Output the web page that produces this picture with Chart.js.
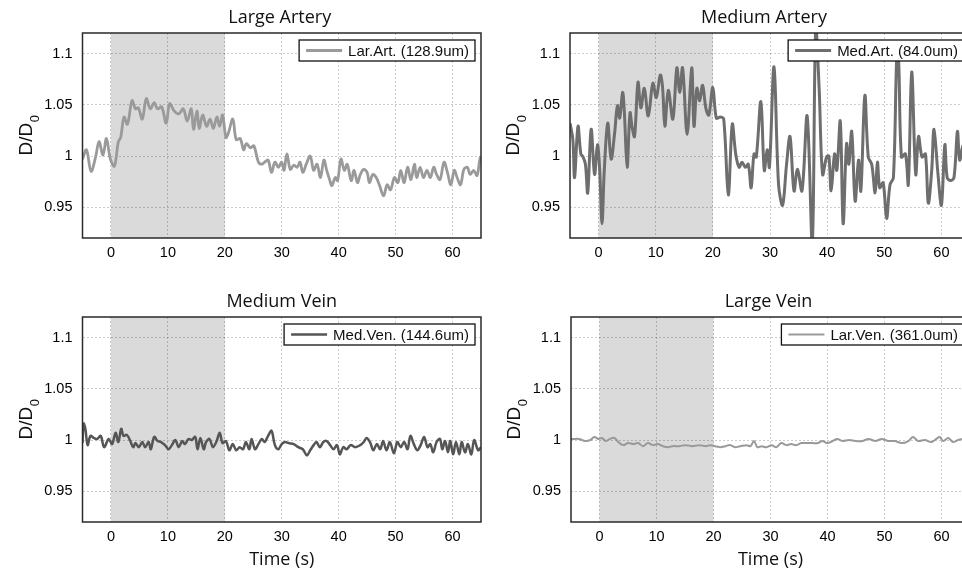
<!DOCTYPE html>
<html lang="en">
<head>
  <meta charset="UTF-8" />
  <title>Vessel diameter ratio D/D0 over time</title>
  <script src="https://cdn.jsdelivr.net/npm/chart.js"></script>
  <style>
    html, body { margin: 0; padding: 0; background: #fff; width: 962px; height: 573px; overflow: hidden; }
    #wrap { position: relative; width: 962px; height: 573px; overflow: hidden; }
    #wrap canvas { position: absolute; }
  </style>
</head>
<body>
  <div id="wrap">
    <canvas id="largeArtery" width="490" height="283" style="left:0;top:0"></canvas>
    <canvas id="mediumArtery" width="499" height="283" style="left:481px;top:0"></canvas>
    <canvas id="mediumVein" width="490" height="290" style="left:0;top:283px"></canvas>
    <canvas id="largeVein" width="499" height="290" style="left:481px;top:283px"></canvas>
  </div>

  <script>
    // axes
    const xTicks = [0, 10, 20, 30, 40, 50, 60];
    const yTicks = [0.95, 1, 1.05, 1.1];
    const xMin = -5, xMax = 65;
    const yMin = 0.92, yMax = 1.12;
    const stimStart = 0, stimEnd = 20;

    // Large Artery (128.9um)
    const largeArteryTime = [
      -5, -4.3, -3.5, -2.7, -2.1, -1.4, -0.8, -0.1, 0.6, 1.3,
      1.7, 2.3, 2.9, 3.7, 4.3, 4.8, 5.5, 6.2, 6.9, 7.6,
      8.2, 8.9, 9.7, 10.3, 11.1, 11.9, 12.7, 13.4, 14.1, 14.5,
      15.1, 15.5, 16.1, 16.8, 17.4, 18.0, 18.6, 19.1, 19.6, 20.2,
      20.6, 21.4, 22.0, 22.7, 23.3, 23.8, 24.5, 25.1, 25.9, 26.5,
      27.0, 27.6, 28.2, 28.8, 29.4, 30.0, 30.4, 30.9, 31.5, 32.1,
      32.7, 33.2, 33.7, 34.3, 35.0, 35.6, 36.2, 36.8, 37.4, 37.9,
      38.4, 38.8, 39.4, 39.8, 40.4, 41.0, 41.5, 42.2, 42.7, 43.3,
      43.8, 44.4, 45.0, 45.4, 46.0, 46.6, 47.2, 47.9, 48.5, 49.1,
      49.8, 50.4, 50.9, 51.5, 52.1, 52.7, 53.3, 53.7, 54.3, 54.9,
      55.5, 56.1, 56.7, 57.2, 57.8, 58.5, 59.1, 59.7, 60.3, 60.8,
      61.4, 62.0, 62.6, 63.1, 63.7, 64.3, 64.8, 65.0
    ];
    const largeArteryRatio = [
      0.997, 1.006, 0.985, 0.999, 1.014, 1.001, 1.017, 0.997, 0.990, 1.014,
      1.018, 1.038, 1.031, 1.054, 1.046, 1.047, 1.036, 1.056, 1.046, 1.052,
      1.046, 1.048, 1.032, 1.051, 1.044, 1.041, 1.046, 1.034, 1.046, 1.026,
      1.044, 1.027, 1.040, 1.029, 1.036, 1.027, 1.038, 1.029, 1.040, 1.018,
      1.022, 1.036, 1.016, 1.017, 1.006, 1.012, 1.008, 1.010, 0.994, 0.992,
      0.994, 0.996, 0.984, 0.994, 0.989, 0.994, 0.986, 1.002, 0.987, 0.991,
      0.989, 0.994, 0.984, 0.992, 1.000, 0.986, 0.992, 0.979, 0.996, 0.986,
      0.977, 0.971, 0.979, 0.976, 0.997, 0.986, 0.992, 0.976, 0.986, 0.974,
      0.982, 0.987, 0.984, 0.974, 0.982, 0.979, 0.971, 0.961, 0.972, 0.967,
      0.979, 0.974, 0.986, 0.974, 0.989, 0.977, 0.992, 0.979, 0.989, 0.979,
      0.986, 0.979, 0.989, 0.982, 0.977, 0.994, 0.984, 0.972, 0.986, 0.979,
      0.972, 0.987, 0.989, 0.982, 0.986, 0.981, 0.997, 1.000
    ];

    // Medium Artery (84.0um)
    const mediumArteryTime = [
      -5, -4.5, -4.2, -3.6, -3.1, -2.7, -2.3, -1.9, -1.3, -0.7,
      -0.2, 0.2, 0.6, 1.0, 1.6, 2.2, 2.8, 3.3, 3.7, 4.2,
      4.5, 5.0, 5.5, 5.9, 6.3, 6.9, 7.4, 8.0, 8.7, 9.5,
      10.1, 10.8, 11.2, 11.6, 12.2, 13.0, 13.7, 14.2, 14.7, 15.5,
      16.3, 16.7, 17.2, 17.7, 18.2, 18.8, 19.3, 20.0, 20.6, 21.3,
      21.9, 22.7, 23.4, 24.0, 24.6, 25.1, 25.7, 26.2, 26.7, 27.2,
      27.6, 28.4, 29.0, 29.5, 29.9, 30.7, 31.5, 32.2, 32.9, 33.5,
      34.2, 34.8, 35.6, 36.5, 37.4, 38.0, 38.6, 39.2, 39.9, 40.3,
      40.7, 41.3, 41.7, 42.3, 42.8, 43.4, 43.8, 44.3, 44.9, 45.5,
      45.9, 46.6, 47.2, 47.8, 48.4, 48.8, 49.2, 49.8, 50.4, 51.0,
      51.6, 52.2, 52.5, 53.0, 53.7, 54.2, 54.8, 55.5, 56.0, 56.6,
      57.2, 57.7, 58.3, 58.7, 59.4, 60.0, 60.6, 61.0, 61.6, 62.2,
      62.8, 63.2, 63.8, 64.4, 65.0
    ];
    const mediumArteryRatio = [
      1.032, 1.016, 0.979, 1.029, 1.002, 0.999, 0.992, 0.964, 1.026, 0.982,
      1.011, 0.986, 0.934, 0.986, 1.032, 0.997, 1.022, 1.049, 1.037, 1.062,
      1.044, 0.989, 1.042, 1.027, 1.019, 1.072, 1.047, 1.066, 1.039, 1.071,
      1.057, 1.079, 1.067, 1.029, 1.064, 1.036, 1.086, 1.062, 1.086, 1.021,
      1.086, 1.029, 1.066, 1.054, 1.069, 1.046, 1.040, 1.067, 1.037, 1.038,
      1.036, 0.962, 1.031, 1.002, 0.989, 0.994, 0.989, 0.992, 0.969, 1.002,
      0.999, 1.053, 0.986, 1.006, 0.989, 1.087, 0.972, 0.952, 0.992, 1.019,
      0.966, 0.987, 0.966, 1.039, 0.915, 1.125, 1.066, 0.982, 0.999, 1.000,
      0.966, 1.002, 0.986, 1.034, 0.934, 1.012, 0.992, 1.024, 0.956, 0.996,
      0.966, 1.059, 0.999, 0.992, 0.964, 0.994, 0.969, 0.974, 0.939, 0.972,
      0.979, 1.100, 1.095, 0.999, 1.002, 0.972, 1.082, 0.982, 1.019, 0.999,
      1.002, 0.954, 0.986, 1.026, 0.982, 0.952, 1.011, 0.979, 0.976, 0.979,
      1.024, 0.996, 1.010, 0.985, 1.000
    ];

    // Medium Vein (144.6um)
    const mediumVeinTime = [
      -5, -4.8, -4.5, -4.1, -3.6, -3.0, -2.4, -1.8, -1.2, -0.4,
      0.2, 0.8, 1.3, 1.8, 2.2, 2.8, 3.4, 3.9, 4.3, 4.9,
      5.5, 6.0, 6.6, 7.0, 7.6, 8.2, 8.8, 9.5, 10.1, 10.7,
      11.3, 11.9, 12.5, 13.0, 13.6, 14.2, 14.8, 15.2, 15.7, 16.3,
      16.7, 17.3, 17.9, 18.5, 19.1, 19.6, 20.2, 20.8, 21.4, 22.0,
      22.6, 23.2, 23.7, 24.3, 24.7, 25.3, 25.9, 26.5, 27.0, 27.6,
      28.2, 28.8, 29.4, 30.0, 30.6, 31.2, 32.1, 32.9, 33.7, 34.4,
      35.0, 35.6, 36.1, 36.7, 37.3, 37.9, 38.5, 39.1, 39.7, 40.2,
      40.8, 41.4, 42.1, 42.9, 43.8, 44.4, 44.9, 45.5, 46.1, 46.7,
      47.3, 47.8, 48.4, 49.0, 49.7, 50.3, 50.9, 51.5, 52.1, 52.6,
      53.2, 53.8, 54.4, 55.0, 55.6, 56.1, 56.6, 57.2, 57.8, 58.2,
      58.7, 59.2, 59.6, 60.1, 60.6, 61.2, 61.6, 62.2, 62.7, 63.3,
      63.8, 64.5, 65.0
    ];
    const mediumVeinRatio = [
      0.997, 1.016, 1.011, 0.995, 1.004, 1.002, 1.001, 1.004, 0.993, 1.001,
      0.996, 1.007, 0.998, 1.011, 1.004, 1.005, 0.999, 0.993, 0.997, 0.993,
      0.998, 0.993, 0.998, 0.991, 1.003, 0.999, 0.998, 0.995, 0.991, 0.995,
      1.000, 0.993, 0.999, 0.996, 1.001, 1.000, 1.003, 0.991, 1.002, 0.991,
      0.998, 1.001, 0.993, 0.998, 1.007, 0.997, 0.999, 0.990, 0.996, 0.990,
      0.993, 0.991, 0.998, 0.991, 1.001, 0.991, 0.996, 1.001, 0.998, 1.004,
      1.009, 0.995, 0.991, 0.996, 0.998, 0.997, 0.996, 0.993, 0.991, 0.985,
      0.990, 0.995, 0.998, 0.993, 0.998, 0.999, 0.995, 0.991, 0.995, 0.986,
      0.993, 0.991, 0.995, 0.993, 0.995, 0.998, 1.002, 0.998, 0.990, 0.996,
      0.991, 0.999, 0.990, 0.998, 0.987, 0.998, 0.993, 0.998, 0.991, 1.004,
      0.996, 0.990, 0.995, 1.003, 0.993, 0.996, 0.988, 0.998, 1.001, 0.991,
      0.999, 0.988, 0.999, 0.986, 0.998, 0.986, 0.998, 0.988, 0.996, 0.986,
      1.000, 0.990, 0.993
    ];

    // Large Vein (361.0um)
    const largeVeinTime = [
      -5, -4.7, -3.6, -2.5, -1.6, -0.9, -0.2, 0.4, 1.1, 1.8,
      2.6, 3.3, 4.2, 5.0, 5.9, 6.8, 7.6, 8.5, 9.4, 10.2,
      11.1, 12.0, 12.8, 14.0, 15.1, 16.3, 17.5, 18.6, 19.5, 20.3,
      21.2, 22.1, 22.9, 23.8, 24.7, 25.8, 26.5, 27.1, 27.7, 28.4,
      29.3, 30.2, 31.0, 31.9, 32.8, 33.6, 34.5, 35.4, 36.2, 37.4,
      38.3, 39.1, 40.0, 40.9, 41.7, 42.6, 43.8, 44.9, 46.1, 47.2,
      48.4, 49.5, 50.7, 51.8, 53.0, 54.2, 55.0, 55.9, 57.1, 58.2,
      59.1, 59.7, 60.3, 61.2, 62.0, 62.9, 64.0, 65.0
    ];
    const largeVeinRatio = [
      1.001, 1.001, 1.001, 0.999, 1.000, 1.003, 1.001, 1.002, 0.999, 1.001,
      1.002, 0.998, 0.995, 0.997, 0.996, 0.997, 0.994, 0.997, 0.995, 0.996,
      0.994, 0.993, 0.994, 0.994, 0.995, 0.994, 0.995, 0.994, 0.995, 0.994,
      0.993, 0.994, 0.995, 0.993, 0.994, 0.995, 0.994, 0.999, 0.993, 0.994,
      0.993, 0.995, 0.993, 0.997, 0.995, 0.996, 0.995, 0.997, 0.997, 0.997,
      0.997, 0.999, 0.997, 0.999, 1.001, 0.999, 1.000, 0.999, 0.999, 1.001,
      0.999, 1.001, 0.999, 0.999, 0.997, 0.999, 1.003, 0.999, 1.000, 0.998,
      1.001, 1.003, 0.999, 1.002, 0.998, 1.000, 1.001, 0.999
    ];

    const tickFont = { family: 'Liberation Sans', size: 14.5 };
    const gridColor = 'rgba(0, 0, 0, 0.2)';

    function toPoints(times, ratios) {
      const n = Math.min(times.length, ratios.length);
      const pts = [];
      for (let i = 0; i < n; i++) pts.push({ x: times[i], y: ratios[i] });
      return pts;
    }

    function makePanel(id, cfg) {
      const decor = {
        id: 'decor',
        beforeDraw(chart) {
          const { ctx, chartArea: a, scales: { x } } = chart;
          const x0 = x.getPixelForValue(stimStart);
          const x1 = x.getPixelForValue(stimEnd);
          ctx.save();
          ctx.fillStyle = '#dadada';
          ctx.fillRect(x0, a.top, x1 - x0, a.bottom - a.top);
          ctx.restore();
        },
        afterDraw(chart) {
          const { ctx, chartArea: a } = chart;
          const midX = (a.left + a.right) / 2;
          ctx.save();

          // plot frame
          ctx.strokeStyle = '#2a2a2a';
          ctx.lineWidth = 1.5;
          ctx.strokeRect(a.left, a.top, a.right - a.left, a.bottom - a.top);

          // panel title
          ctx.fillStyle = '#111';
          ctx.font = '18px "Open Sans"';
          ctx.textAlign = 'center';
          ctx.textBaseline = 'middle';
          ctx.fillText(cfg.title, midX + cfg.titleShift, a.top - 15);

          // x label on the lower row
          if (cfg.xLabel) {
            ctx.fillText(cfg.xLabel, midX, a.bottom + 38);
          }

          // y label D/D0 with subscript
          ctx.save();
          ctx.translate(a.left - 51, (a.top + a.bottom) / 2);
          ctx.rotate(-Math.PI / 2);
          ctx.textAlign = 'left';
          ctx.textBaseline = 'alphabetic';
          ctx.font = '19px "Liberation Sans"';
          const w1 = ctx.measureText('D/D').width;
          ctx.font = '13px "Liberation Sans"';
          const w2 = ctx.measureText('0').width;
          const sx = -(w1 + w2) / 2;
          ctx.font = '19px "Liberation Sans"';
          ctx.fillText('D/D', sx, 0);
          ctx.font = '13px "Liberation Sans"';
          ctx.fillText('0', sx + w1 + 0.5, 7);
          ctx.restore();

          // legend box
          ctx.font = '15px "Liberation Sans"';
          const tw = ctx.measureText(cfg.legend).width;
          const h = 21;
          const boxR = a.right - 6;
          const boxL = boxR - (7 + 36 + 6 + tw + 6);
          const top = a.top + 7;
          ctx.fillStyle = '#fff';
          ctx.fillRect(boxL, top, boxR - boxL, h);
          ctx.strokeStyle = '#111';
          ctx.lineWidth = 1.3;
          ctx.strokeRect(boxL, top, boxR - boxL, h);
          ctx.strokeStyle = cfg.color;
          ctx.lineWidth = cfg.width;
          ctx.beginPath();
          ctx.moveTo(boxL + 7, top + h / 2);
          ctx.lineTo(boxL + 43, top + h / 2);
          ctx.stroke();
          ctx.fillStyle = '#111';
          ctx.textAlign = 'left';
          ctx.textBaseline = 'middle';
          ctx.fillText(cfg.legend, boxL + 49, top + h / 2 + 1);

          ctx.restore();
        }
      };

      return new Chart(document.getElementById(id), {
        type: 'line',
        data: {
          datasets: [{
            label: cfg.legend,
            data: toPoints(cfg.times, cfg.ratios),
            borderColor: cfg.color,
            borderWidth: cfg.width,
            borderJoinStyle: 'round',
            pointRadius: 0,
            fill: false,
            tension: 0.35,
            clip: 0
          }]
        },
        options: {
          responsive: false,
          animation: false,
          devicePixelRatio: 1,
          layout: { padding: { top: cfg.padTop, right: cfg.padRight, left: 0, bottom: 0 } },
          plugins: {
            legend: { display: false },
            tooltip: { enabled: false },
            title: { display: false }
          },
          scales: {
            x: {
              type: 'linear',
              min: xMin,
              max: xMax,
              afterBuildTicks: s => { s.ticks = xTicks.map(v => ({ value: v })); },
              afterFit: s => { s.height = cfg.xAxisHeight; },
              grid: { color: gridColor, drawTicks: false, lineWidth: 1 },
              border: { display: false, dash: [2, 2] },
              ticks: { padding: 6, autoSkip: false, maxRotation: 0, font: tickFont, color: '#000', callback: v => String(v) }
            },
            y: {
              type: 'linear',
              min: yMin,
              max: yMax,
              afterBuildTicks: s => { s.ticks = yTicks.map(v => ({ value: v })); },
              afterFit: s => { s.width = cfg.yAxisWidth; },
              grid: { color: gridColor, drawTicks: false, lineWidth: 1 },
              border: { display: false, dash: [2, 2] },
              ticks: { padding: 10, autoSkip: false, font: tickFont, color: '#000', callback: v => String(+v.toFixed(2)) }
            }
          }
        },
        plugins: [decor]
      });
    }

    makePanel('largeArtery', {
      title: 'Large Artery', legend: 'Lar.Art. (128.9um)',
      times: largeArteryTime, ratios: largeArteryRatio,
      color: '#9a9a9a', width: 2.8, titleShift: -2,
      padTop: 33, padRight: 9, yAxisWidth: 82.5, xAxisHeight: 45
    });
    makePanel('mediumArtery', {
      title: 'Medium Artery', legend: 'Med.Art. (84.0um)',
      times: mediumArteryTime, ratios: mediumArteryRatio,
      color: '#6e6e6e', width: 3, titleShift: -6,
      padTop: 33, padRight: 10, yAxisWidth: 89, xAxisHeight: 45
    });
    makePanel('mediumVein', {
      title: 'Medium Vein', legend: 'Med.Ven. (144.6um)', xLabel: 'Time (s)',
      times: mediumVeinTime, ratios: mediumVeinRatio,
      color: '#555555', width: 2.5, titleShift: 0,
      padTop: 34, padRight: 9, yAxisWidth: 82.5, xAxisHeight: 51
    });
    makePanel('largeVein', {
      title: 'Large Vein', legend: 'Lar.Ven. (361.0um)', xLabel: 'Time (s)',
      times: largeVeinTime, ratios: largeVeinRatio,
      color: '#999999', width: 2, titleShift: -2,
      padTop: 34, padRight: 10, yAxisWidth: 90, xAxisHeight: 51
    });
  </script>
</body>
</html>
